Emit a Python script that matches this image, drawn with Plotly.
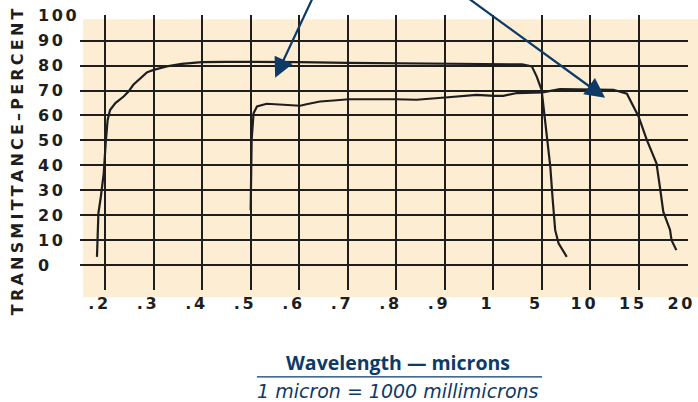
import plotly.graph_objects as go

# ---- data (positions are along the equally spaced wavelength grid) ----
x_tick_labels = [".2", ".3", ".4", ".5", ".6", ".7", ".8", ".9", "1", "5", "10", "15", "20"]
y_tick_values = [0, 10, 20, 30, 40, 50, 60, 70, 80, 90, 100]

curve1_pos = [-0.17, -0.14, -0.09, -0.03, 0.01, 0.05, 0.10, 0.21, 0.38, 0.48, 0.58, 0.72, 0.86,
              1.0, 1.27, 1.58, 1.99, 2.5, 3.0, 4.0, 5.0, 6.0, 7.0, 8.0, 8.6, 8.8, 8.9, 9.0,
              9.05, 9.1, 9.18, 9.23, 9.28, 9.35, 9.52]
curve1_pct = [3.3, 20.8, 27.4, 36.9, 49, 58.2, 62.2, 65, 67.6, 69.6, 72.3, 75, 77.3,
              78.3, 79.7, 80.7, 81.4, 81.5, 81.5, 81.4, 81.1, 81.0, 80.8, 80.6, 80.5, 79.7, 75.6, 70.3,
              62.2, 52.9, 39.5, 26.1, 14.1, 8.7, 3.3]

curve2_pos = [3.0, 3.02, 3.06, 3.13, 3.33, 3.67, 4.02, 4.15, 4.43, 4.71, 5.02, 5.99, 6.42, 7.01,
              7.66, 8.02, 8.21, 8.49, 9.02, 9.38, 9.86, 10.48, 10.76, 10.89, 11.0, 11.17, 11.37,
              11.44, 11.51, 11.65, 11.68, 11.78]
curve2_pct = [22, 50.2, 60.9, 63.6, 64.7, 64.3, 63.9, 64.5, 65.6, 66, 66.5, 66.5, 66.3, 67.2,
              68.3, 67.9, 67.9, 69, 69.3, 70.6, 70.6, 70.3, 68.7, 63.6, 59.6, 50.2, 40.8,
              31.4, 21.4, 14.1, 10, 6]

# arrow heads / tails (position, percent)
arrow_heads = [(3.505, 75.1), (10.31, 67.1)]
arrow_tails = [(4.30, 108.0), (7.42, 108.0)]

INK = "#1e1e1e"
NAVY = "#0d3a66"
TICKFONT = dict(family="DejaVu Sans", size=16, color=INK, weight="bold")

def spaced(s, sep="\u2006"):
    return sep.join(list(s))

fig = go.Figure()
fig.add_trace(go.Scatter(x=curve1_pos, y=curve1_pct, mode="lines",
                         line=dict(color=INK, width=2.2), hoverinfo="skip", showlegend=False))
fig.add_trace(go.Scatter(x=curve2_pos, y=curve2_pct, mode="lines",
                         line=dict(color=INK, width=2.2), hoverinfo="skip", showlegend=False))

annotations = []
# y tick labels (left aligned)
for v in y_tick_values:
    annotations.append(dict(x=-0.073, xref="paper", y=v, yref="y", xanchor="left", yanchor="middle",
                            align="left", text=spaced(str(v)), showarrow=False, font=TICKFONT))
# y axis title
annotations.append(dict(x=-0.1036, xref="paper", y=0.465, yref="paper", xanchor="center", yanchor="middle",
                        textangle=-90, showarrow=False,
                        text=spaced("TRANSMITTANCE–PERCENT", "\u2009"),
                        font=dict(family="DejaVu Sans", size=16, color=INK, weight="bold")))
# arrows
for (hx, hy), (tx, ty) in zip(arrow_heads, arrow_tails):
    annotations.append(dict(x=hx, y=hy, xref="x", yref="y", ax=tx, ay=ty, axref="x", ayref="y",
                            text="", showarrow=True, arrowhead=2, arrowsize=1.8, arrowwidth=2.2,
                            arrowcolor=NAVY, standoff=0, startstandoff=0))
# x axis title block
annotations.append(dict(x=0.523, y=-0.262, xref="paper", yref="paper", xanchor="center", yanchor="middle",
                        text="<b>Wavelength — microns</b>", showarrow=False, borderpad=0,
                        font=dict(family="Open Sans", size=19.5, color=NAVY)))
annotations.append(dict(x=0.523, y=-0.366, xref="paper", yref="paper", xanchor="center", yanchor="middle",
                        text="<i>1 micron = 1000 millimicrons</i>", showarrow=False, borderpad=0,
                        font=dict(family="DejaVu Sans", size=19, color=NAVY)))

shapes = [
    dict(type="rect", xref="paper", yref="paper", x0=0.0049, x1=1.02, y0=-0.026, y1=0.985,
         fillcolor="#FDEDD3", line=dict(width=0), layer="below"),
    dict(type="line", xref="paper", yref="paper", x0=0.291, x1=0.760, y0=-0.316, y1=-0.316,
         line=dict(color=NAVY, width=1.3)),
]

fig.update_layout(
    width=698, height=402,
    margin=dict(l=80, r=10, t=15, b=112, autoexpand=False),
    paper_bgcolor="white", plot_bgcolor="rgba(0,0,0,0)",
    showlegend=False,
    annotations=annotations, shapes=shapes,
    xaxis=dict(range=[-0.52, 12.02], tickvals=list(range(len(x_tick_labels))),
               ticktext=[spaced(t) for t in x_tick_labels], tickfont=TICKFONT,
               showgrid=True, gridcolor=INK, gridwidth=2.2, zeroline=False, showline=False,
               ticks="", ticklabelshift=-7, ticklabelstandoff=2, fixedrange=True, automargin=False),
    yaxis=dict(range=[-10, 100.3], tickvals=y_tick_values, showticklabels=False,
               showgrid=True, gridcolor=INK, gridwidth=2.2, zeroline=False, showline=False,
               ticks="", fixedrange=True, automargin=False),
)

fig.write_html("out.html", config={"displayModeBar": False},
               post_script="document.body.style.margin='0';")
